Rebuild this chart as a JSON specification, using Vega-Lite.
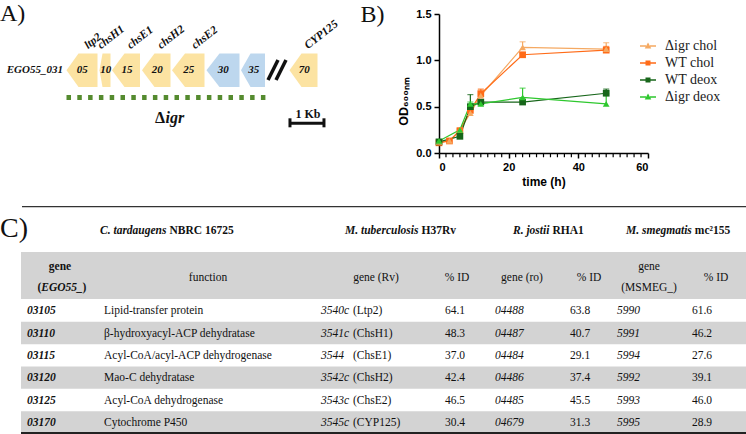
{
  "$schema": "https://vega.github.io/schema/vega-lite/v6.json",
  "padding": 0,
  "bounds": "flush",
  "spacing": 206,
  "config": {"view": {"stroke": null}, "text": {"font": "Liberation Serif"}},
  "resolve": {"scale": {"color": "independent"}, "legend": {"color": "independent"}},
  "vconcat": [
    {
      "bounds": "flush",
      "spacing": 39,
      "hconcat": [
        {
          "width": 400,
          "height": 200,
          "data": {"values": [
            {"gene": "05", "name": "ltp2", "type": "steroid", "kb": 1.956, "hi": 0, "lo": 0},
            {"gene": "05", "name": "ltp2", "type": "steroid", "kb": 2.309, "hi": 1, "lo": -1},
            {"gene": "05", "name": "ltp2", "type": "steroid", "kb": 2.868, "hi": 1, "lo": -1},
            {"gene": "10", "name": "chsH1", "type": "steroid", "kb": 2.926, "hi": 0, "lo": 0},
            {"gene": "10", "name": "chsH1", "type": "steroid", "kb": 3.015, "hi": 1, "lo": -1},
            {"gene": "10", "name": "chsH1", "type": "steroid", "kb": 3.25, "hi": 1, "lo": -1},
            {"gene": "15", "name": "chsE1", "type": "steroid", "kb": 3.294, "hi": 0, "lo": 0},
            {"gene": "15", "name": "chsE1", "type": "steroid", "kb": 3.662, "hi": 1, "lo": -1},
            {"gene": "15", "name": "chsE1", "type": "steroid", "kb": 4.118, "hi": 1, "lo": -1},
            {"gene": "20", "name": "chsH2", "type": "steroid", "kb": 4.176, "hi": 0, "lo": 0},
            {"gene": "20", "name": "chsH2", "type": "steroid", "kb": 4.544, "hi": 1, "lo": -1},
            {"gene": "20", "name": "chsH2", "type": "steroid", "kb": 5.015, "hi": 1, "lo": -1},
            {"gene": "25", "name": "chsE2", "type": "steroid", "kb": 5.059, "hi": 0, "lo": 0},
            {"gene": "25", "name": "chsE2", "type": "steroid", "kb": 5.441, "hi": 1, "lo": -1},
            {"gene": "25", "name": "chsE2", "type": "steroid", "kb": 6.015, "hi": 1, "lo": -1},
            {"gene": "30", "type": "other", "kb": 6.074, "hi": 0, "lo": 0},
            {"gene": "30", "type": "other", "kb": 6.456, "hi": 1, "lo": -1},
            {"gene": "30", "type": "other", "kb": 7.044, "hi": 1, "lo": -1},
            {"gene": "35", "type": "other", "kb": 7.088, "hi": 0, "lo": 0},
            {"gene": "35", "type": "other", "kb": 7.368, "hi": 1, "lo": -1},
            {"gene": "35", "type": "other", "kb": 7.794, "hi": 1, "lo": -1},
            {"gene": "70", "name": "CYP125", "type": "steroid", "kb": 8.515, "hi": 0, "lo": 0},
            {"gene": "70", "name": "CYP125", "type": "steroid", "kb": 8.868, "hi": 1, "lo": -1},
            {"gene": "70", "name": "CYP125", "type": "steroid", "kb": 9.338, "hi": 1, "lo": -1}
          ]},
          "layer": [
            {
              "transform": [{"filter": "datum.type == 'steroid'"}],
              "mark": {"type": "area", "opacity": 1, "interpolate": "linear", "color": "#FCE3A2"},
              "encoding": {
                "x": {"field": "kb", "type": "quantitative", "scale": {"domain": [0, 11.765], "nice": false, "zero": false}, "axis": null},
                "y": {"field": "hi", "type": "quantitative", "scale": {"domain": [-7.743, 4.197], "nice": false, "zero": false}, "axis": null},
                "y2": {"field": "lo"},
                "detail": {"field": "gene"}
              }
            },
            {
              "transform": [{"filter": "datum.type == 'other'"}],
              "mark": {"type": "area", "opacity": 1, "interpolate": "linear", "color": "#BDD7EE"},
              "encoding": {
                "x": {"field": "kb", "type": "quantitative", "axis": null},
                "y": {"field": "hi", "type": "quantitative", "axis": null},
                "y2": {"field": "lo"},
                "detail": {"field": "gene"}
              }
            },
            {
              "mark": {"type": "text", "font": "Liberation Serif", "fontStyle": "italic", "fontWeight": "bold", "fontSize": 11, "dx": 1.5, "color": "#111"},
              "encoding": {
                "x": {"aggregate": "mean", "field": "kb", "type": "quantitative", "axis": null},
                "y": {"datum": 0, "type": "quantitative", "axis": null},
                "text": {"field": "gene"}
              }
            },
            {
              "transform": [{"filter": "isValid(datum.name)"}],
              "mark": {"type": "text", "font": "Liberation Serif", "fontStyle": "italic", "fontWeight": "bold", "fontSize": 11.5, "angle": -38, "align": "left", "baseline": "alphabetic", "dx": -7.5, "dy": -5.85, "color": "#111"},
              "encoding": {
                "x": {"aggregate": "max", "field": "kb", "type": "quantitative", "axis": null},
                "y": {"datum": 1.254, "type": "quantitative", "axis": null},
                "text": {"field": "name"}
              }
            },
            {
              "data": {"values": [{"label": "EGO55_031"}]},
              "mark": {"type": "text", "font": "Liberation Serif", "fontStyle": "italic", "fontWeight": "bold", "fontSize": 11, "align": "right", "color": "#111"},
              "encoding": {
                "x": {"datum": 1.853, "type": "quantitative", "axis": null},
                "y": {"datum": 0, "type": "quantitative", "axis": null},
                "text": {"field": "label"}
              }
            },
            {
              "data": {"values": [{"region": "Δigr", "from": 1.956, "to": 7.824}]},
              "mark": {"type": "rule", "strokeWidth": 5, "strokeDash": [4.5, 6.3], "color": "#558B2F"},
              "encoding": {
                "x": {"field": "from", "type": "quantitative", "axis": null},
                "x2": {"field": "to"},
                "y": {"datum": -1.624, "type": "quantitative", "axis": null}
              }
            },
            {
              "data": {"values": [{"label": "Δ"}]},
              "mark": {"type": "text", "font": "Liberation Serif", "fontWeight": "bold", "fontSize": 16, "align": "right", "color": "#111"},
              "encoding": {
                "x": {"datum": 4.853, "type": "quantitative", "axis": null},
                "y": {"datum": -2.848, "type": "quantitative", "axis": null},
                "text": {"field": "label"}
              }
            },
            {
              "data": {"values": [{"label": "igr"}]},
              "mark": {"type": "text", "font": "Liberation Serif", "fontWeight": "bold", "fontStyle": "italic", "fontSize": 16, "align": "left", "color": "#111"},
              "encoding": {
                "x": {"datum": 4.87, "type": "quantitative", "axis": null},
                "y": {"datum": -2.848, "type": "quantitative", "axis": null},
                "text": {"field": "label"}
              }
            },
            {
              "data": {"values": [{"bar": "1 Kb"}]},
              "mark": {"type": "rule", "strokeWidth": 3, "color": "#111"},
              "encoding": {
                "x": {"datum": 8.529, "type": "quantitative", "axis": null},
                "x2": {"datum": 9.529},
                "y": {"datum": -3.164, "type": "quantitative", "axis": null}
              }
            },
            {
              "data": {"values": [{"bar": "1 Kb"}]},
              "mark": {"type": "rule", "strokeWidth": 3, "color": "#111"},
              "encoding": {
                "x": {"datum": 8.529, "type": "quantitative", "axis": null},
                "y": {"datum": -2.866, "type": "quantitative", "axis": null},
                "y2": {"datum": -3.403}
              }
            },
            {
              "data": {"values": [{"bar": "1 Kb"}]},
              "mark": {"type": "rule", "strokeWidth": 3, "color": "#111"},
              "encoding": {
                "x": {"datum": 9.529, "type": "quantitative", "axis": null},
                "y": {"datum": -2.866, "type": "quantitative", "axis": null},
                "y2": {"datum": -3.403}
              }
            },
            {
              "data": {"values": [{"label": "1 Kb"}]},
              "mark": {"type": "text", "font": "Liberation Serif", "fontWeight": "bold", "fontSize": 12, "color": "#111"},
              "encoding": {
                "x": {"datum": 9.06, "type": "quantitative", "axis": null},
                "y": {"datum": -2.591, "type": "quantitative", "axis": null},
                "text": {"field": "label"}
              }
            },
            {
              "data": {"values": [{"mark": "break"}]},
              "mark": {"type": "rule", "strokeWidth": 3.5, "color": "#111"},
              "encoding": {
                "x": {"datum": 7.882, "type": "quantitative", "axis": null},
                "x2": {"datum": 8.176},
                "y": {"datum": -0.579, "type": "quantitative", "axis": null},
                "y2": {"datum": 0.615}
              }
            },
            {
              "data": {"values": [{"mark": "break"}]},
              "mark": {"type": "rule", "strokeWidth": 3.5, "color": "#111"},
              "encoding": {
                "x": {"datum": 8.118, "type": "quantitative", "axis": null},
                "x2": {"datum": 8.412},
                "y": {"datum": -0.579, "type": "quantitative", "axis": null},
                "y2": {"datum": 0.615}
              }
            },
            {
              "data": {"values": [{"label": "A)"}]},
              "mark": {"type": "text", "font": "Liberation Serif", "fontSize": 24, "align": "left", "baseline": "alphabetic", "color": "#111"},
              "encoding": {
                "x": {"datum": 0, "type": "quantitative", "axis": null},
                "y": {"datum": 2.95, "type": "quantitative", "axis": null},
                "text": {"field": "label"}
              }
            },
            {
              "data": {"values": [{"label": "B)"}]},
              "mark": {"type": "text", "font": "Liberation Serif", "fontSize": 24, "align": "left", "baseline": "alphabetic", "color": "#111"},
              "encoding": {
                "x": {"datum": 10.6, "type": "quantitative", "axis": null},
                "y": {"datum": 2.9, "type": "quantitative", "axis": null},
                "text": {"field": "label"}
              }
            }
          ]
        },
        {
          "bounds": "flush",
          "spacing": 0,
          "vconcat": [
            {"width": 209, "height": 14, "data": {"values": []}, "mark": "point"},
            {
              "width": 209,
              "height": 139,
              "data": {"values": [
                {"series": "Δigr chol", "t": 0, "od": 0.12, "hi": 0.12},
                {"series": "Δigr chol", "t": 3, "od": 0.13, "hi": 0.13},
                {"series": "Δigr chol", "t": 6, "od": 0.25, "hi": 0.27},
                {"series": "Δigr chol", "t": 9, "od": 0.43, "hi": 0.46},
                {"series": "Δigr chol", "t": 12, "od": 0.62, "hi": 0.68},
                {"series": "Δigr chol", "t": 24, "od": 1.14, "hi": 1.2},
                {"series": "Δigr chol", "t": 48, "od": 1.12, "hi": 1.19},
                {"series": "WT chol", "t": 0, "od": 0.11, "hi": 0.11},
                {"series": "WT chol", "t": 3, "od": 0.13, "hi": 0.13},
                {"series": "WT chol", "t": 6, "od": 0.24, "hi": 0.25},
                {"series": "WT chol", "t": 9, "od": 0.46, "hi": 0.49},
                {"series": "WT chol", "t": 12, "od": 0.64, "hi": 0.69},
                {"series": "WT chol", "t": 24, "od": 1.06, "hi": 1.08},
                {"series": "WT chol", "t": 48, "od": 1.11, "hi": 1.15},
                {"series": "WT deox", "t": 0, "od": 0.12, "hi": 0.13},
                {"series": "WT deox", "t": 6, "od": 0.18, "hi": 0.19},
                {"series": "WT deox", "t": 9, "od": 0.5, "hi": 0.63},
                {"series": "WT deox", "t": 12, "od": 0.55, "hi": 0.57},
                {"series": "WT deox", "t": 24, "od": 0.55, "hi": 0.56},
                {"series": "WT deox", "t": 48, "od": 0.645, "hi": 0.69},
                {"series": "Δigr deox", "t": 0, "od": 0.13, "hi": 0.13},
                {"series": "Δigr deox", "t": 6, "od": 0.25, "hi": 0.26},
                {"series": "Δigr deox", "t": 9, "od": 0.53, "hi": 0.55},
                {"series": "Δigr deox", "t": 12, "od": 0.53, "hi": 0.55},
                {"series": "Δigr deox", "t": 24, "od": 0.6, "hi": 0.7},
                {"series": "Δigr deox", "t": 48, "od": 0.53, "hi": 0.64}
              ]},
              "layer": [
                {
                  "mark": {"type": "line", "strokeWidth": 1.2},
                  "encoding": {
                    "x": {"field": "t", "type": "quantitative", "scale": {"domain": [0, 60], "nice": false, "zero": false},
                      "axis": {"orient": "bottom", "values": [0, 20, 40, 60], "title": "time (h)", "titleFont": "Liberation Sans", "titleFontSize": 12, "titleFontWeight": "bold", "titleColor": "black", "titlePadding": 4, "labelFont": "Liberation Sans", "labelFontSize": 11, "labelFontWeight": "bold", "labelColor": "black", "labelPadding": 3, "domainColor": "black", "domainWidth": 1.5, "tickColor": "black", "tickWidth": 1.5, "tickSize": 5, "grid": false}},
                    "y": {"field": "od", "type": "quantitative", "scale": {"domain": [0, 1.5], "nice": false, "zero": false},
                      "axis": {"values": [0, 0.5, 1, 1.5], "format": ".1f", "title": "OD₆₀₀ₙₘ", "titleFont": "Liberation Sans", "titleFontSize": 12.5, "titleFontWeight": "bold", "titleColor": "black", "titlePadding": 5, "titleY": 87, "labelFont": "Liberation Sans", "labelFontSize": 11, "labelFontWeight": "bold", "labelColor": "black", "labelPadding": 3, "domainColor": "black", "domainWidth": 1.5, "tickColor": "black", "tickWidth": 1.5, "tickSize": 5, "grid": false}},
                    "color": {"field": "series", "type": "nominal", "scale": {"domain": ["Δigr chol", "WT chol", "WT deox", "Δigr deox"], "range": ["#F5A962", "#FF6B17", "#17661A", "#2EC82E"]},
                      "legend": {"orient": "none", "legendX": 641, "legendY": 39, "title": null, "padding": 0, "labelFont": "Liberation Serif", "labelFontSize": 14, "labelColor": "#222", "symbolSize": 100, "labelOffset": 10, "rowPadding": 3, "symbolStrokeWidth": 1.4,
                        "encode": {"symbols": {"update": {
                          "shape": {"signal": "indexof(['Δigr chol','Δigr deox'], datum.value) >= 0 ? 'M-1.6,0H-0.4M0.4,0H1.6M0,-0.42L0.42,0.36H-0.42Z' : 'M-1.6,0H-0.36M0.36,0H1.6M-0.36,-0.36H0.36V0.36H-0.36Z'"},
                          "stroke": {"signal": "scale('color', datum.value)"},
                          "fill": {"signal": "scale('color', datum.value)"},
                          "strokeWidth": {"value": 1.4},
                          "strokeOpacity": {"value": 1},
                          "fillOpacity": {"value": 1},
                          "opacity": {"value": 1}
                        }}}}}
                  }
                },
                {
                  "data": {"values": [{"h": 2}, {"h": 4}, {"h": 6}, {"h": 8}, {"h": 10}, {"h": 12}, {"h": 14}, {"h": 16}, {"h": 18}, {"h": 22}, {"h": 24}, {"h": 26}, {"h": 28}, {"h": 30}, {"h": 32}, {"h": 34}, {"h": 36}, {"h": 38}, {"h": 42}, {"h": 44}, {"h": 46}, {"h": 48}, {"h": 50}, {"h": 52}, {"h": 54}, {"h": 56}, {"h": 58}]},
                  "mark": {"type": "tick", "orient": "vertical", "size": 3.5, "thickness": 1.2, "color": "black", "yOffset": 2.5, "opacity": 1},
                  "encoding": {
                    "x": {"field": "h", "type": "quantitative"},
                    "y": {"datum": 0, "type": "quantitative"}
                  }
                },
                {
                  "transform": [{"filter": "datum.hi > datum.od"}],
                  "mark": {"type": "rule", "strokeWidth": 1.2},
                  "encoding": {
                    "x": {"field": "t", "type": "quantitative"},
                    "y": {"field": "od", "type": "quantitative"},
                    "y2": {"field": "hi"},
                    "color": {"field": "series", "type": "nominal"}
                  }
                },
                {
                  "transform": [{"filter": "datum.hi > datum.od"}],
                  "mark": {"type": "tick", "orient": "horizontal", "size": 6, "thickness": 1.2},
                  "encoding": {
                    "x": {"field": "t", "type": "quantitative"},
                    "y": {"field": "hi", "type": "quantitative"},
                    "color": {"field": "series", "type": "nominal"}
                  }
                },
                {
                  "transform": [{"filter": "indexof(datum.series, 'WT') == 0"}],
                  "mark": {"type": "point", "filled": true, "size": 45, "opacity": 1, "shape": "square"},
                  "encoding": {
                    "x": {"field": "t", "type": "quantitative"},
                    "y": {"field": "od", "type": "quantitative"},
                    "color": {"field": "series", "type": "nominal"}
                  }
                },
                {
                  "transform": [{"filter": "indexof(datum.series, 'WT') != 0"}],
                  "mark": {"type": "point", "filled": true, "size": 45, "opacity": 1, "shape": "triangle-up"},
                  "encoding": {
                    "x": {"field": "t", "type": "quantitative"},
                    "y": {"field": "od", "type": "quantitative"},
                    "color": {"field": "series", "type": "nominal"}
                  }
                }
              ]
            }
          ]
        }
      ]
    },
    {
      "width": 746,
      "height": 228,
      "data": {"values": [
        {"row": 1, "gene": "03105", "func": "Lipid-transfer protein", "rv": "3540c", "rvname": "(Ltp2)", "rvid": "64.1", "ro": "04488", "roid": "63.8", "msmeg": "5990", "msid": "61.6"},
        {"row": 2, "gene": "03110", "func": "β-hydroxyacyl-ACP dehydratase", "rv": "3541c", "rvname": "(ChsH1)", "rvid": "48.3", "ro": "04487", "roid": "40.7", "msmeg": "5991", "msid": "46.2"},
        {"row": 3, "gene": "03115", "func": "Acyl-CoA/acyl-ACP dehydrogenase", "rv": "3544", "rvname": "(ChsE1)", "rvid": "37.0", "ro": "04484", "roid": "29.1", "msmeg": "5994", "msid": "27.6"},
        {"row": 4, "gene": "03120", "func": "Mao-C dehydratase", "rv": "3542c", "rvname": "(ChsH2)", "rvid": "42.4", "ro": "04486", "roid": "37.4", "msmeg": "5992", "msid": "39.1"},
        {"row": 5, "gene": "03125", "func": "Acyl-CoA dehydrogenase", "rv": "3543c", "rvname": "(ChsE2)", "rvid": "46.5", "ro": "04485", "roid": "45.5", "msmeg": "5993", "msid": "46.0"},
        {"row": 6, "gene": "03170", "func": "Cytochrome P450", "rv": "3545c", "rvname": "(CYP125)", "rvid": "30.4", "ro": "04679", "roid": "31.3", "msmeg": "5995", "msid": "28.9"}
      ]},
      "layer": [
        {
          "data": {"values": [{"part": "header"}]},
          "mark": {"type": "rect", "color": "#D3D3D3"},
          "encoding": {
            "x": {"datum": 2.815, "type": "quantitative", "scale": {"domain": [0, 100], "nice": false, "zero": false}, "axis": null},
            "x2": {"datum": 100},
            "y": {"datum": -1.606, "type": "quantitative", "scale": {"domain": [-3.666, 6.544], "nice": false, "zero": false, "reverse": true}, "axis": null},
            "y2": {"datum": 0.5}
          }
        },
        {
          "transform": [{"filter": "datum.row % 2 == 0"}],
          "mark": {"type": "rect", "color": "#D3D3D3"},
          "encoding": {
            "x": {"datum": 2.815, "type": "quantitative", "axis": null},
            "x2": {"datum": 100},
            "y": {"field": "row", "type": "quantitative", "bin": {"step": 1, "anchor": 0.5, "nice": false, "extent": [0.5, 6.5]}, "axis": null}
          }
        },
        {
          "data": {"values": [{"part": "top rule"}]},
          "mark": {"type": "rule", "strokeWidth": 1.3, "color": "#333"},
          "encoding": {
            "x": {"datum": 2.949, "type": "quantitative", "axis": null},
            "x2": {"datum": 100},
            "y": {"datum": -3.64, "type": "quantitative", "axis": null}
          }
        },
        {
          "data": {"values": [{"part": "bottom rule"}]},
          "mark": {"type": "rule", "strokeWidth": 2, "color": "#222"},
          "encoding": {
            "x": {"datum": 2.815, "type": "quantitative", "axis": null},
            "x2": {"datum": 100},
            "y": {"datum": 6.5, "type": "quantitative", "axis": null}
          }
        },
        {
          "data": {"values": [{"label": "C)"}]},
          "mark": {"type": "text", "fontSize": 28, "align": "left", "baseline": "alphabetic", "color": "#111"},
          "encoding": {
            "x": {"datum": 0, "type": "quantitative", "axis": null},
            "y": {"datum": -2.278, "type": "quantitative", "axis": null},
            "text": {"field": "label"}
          }
        },
        {
          "data": {"values": [{"a": "C. tardaugens", "x": 22.319}, {"a": "M. tuberculosis", "x": 56.099}, {"a": "R. jostii", "x": 73.646}, {"a": "M. smegmatis", "x": 92.735}]},
          "mark": {"type": "text", "fontSize": 11.5, "fontWeight": "bold", "fontStyle": "italic", "align": "right", "color": "#111"},
          "encoding": {
            "x": {"field": "x", "type": "quantitative", "axis": null},
            "y": {"datum": -2.547, "type": "quantitative", "axis": null},
            "text": {"field": "a"}
          }
        },
        {
          "data": {"values": [{"b": "NBRC 16725", "x": 22.721}, {"b": "H37Rv", "x": 56.501}, {"b": "RHA1", "x": 74.048}, {"b": "mc²155", "x": 93.137}]},
          "mark": {"type": "text", "fontSize": 11.5, "fontWeight": "bold", "align": "left", "color": "#111"},
          "encoding": {
            "x": {"field": "x", "type": "quantitative", "axis": null},
            "y": {"datum": -2.547, "type": "quantitative", "axis": null},
            "text": {"field": "b"}
          }
        },
        {
          "data": {"values": [{"label": "gene"}]},
          "mark": {"type": "text", "fontSize": 11.5, "fontWeight": "bold", "color": "#111"},
          "encoding": {
            "x": {"datum": 8.043, "type": "quantitative", "axis": null},
            "y": {"datum": -0.913, "type": "quantitative", "axis": null},
            "text": {"field": "label"}
          }
        },
        {
          "data": {"values": [{"label": "EGO55_"}]},
          "mark": {"type": "text", "fontSize": 11.5, "fontWeight": "bold", "fontStyle": "italic", "color": "#111"},
          "encoding": {
            "x": {"datum": 8.311, "type": "quantitative", "axis": null},
            "y": {"datum": 0.027, "type": "quantitative", "axis": null},
            "text": {"field": "label"}
          }
        },
        {
          "data": {"values": [{"label": "("}]},
          "mark": {"type": "text", "fontSize": 11.5, "fontWeight": "bold", "align": "right", "color": "#111"},
          "encoding": {
            "x": {"datum": 5.55, "type": "quantitative", "axis": null},
            "y": {"datum": 0.027, "type": "quantitative", "axis": null},
            "text": {"field": "label"}
          }
        },
        {
          "data": {"values": [{"label": ")"}]},
          "mark": {"type": "text", "fontSize": 11.5, "fontWeight": "bold", "align": "left", "color": "#111"},
          "encoding": {
            "x": {"datum": 11.07, "type": "quantitative", "axis": null},
            "y": {"datum": 0.027, "type": "quantitative", "axis": null},
            "text": {"field": "label"}
          }
        },
        {
          "data": {"values": [{"h": "function", "x": 27.882}, {"h": "gene (Rv)", "x": 50.402}, {"h": "% ID", "x": 61.26}, {"h": "gene (ro)", "x": 69.973}, {"h": "% ID", "x": 78.954}, {"h": "% ID", "x": 95.979}]},
          "mark": {"type": "text", "fontSize": 11.5, "color": "#111"},
          "encoding": {
            "x": {"field": "x", "type": "quantitative", "axis": null},
            "y": {"datum": -0.442, "type": "quantitative", "axis": null},
            "text": {"field": "h"}
          }
        },
        {
          "data": {"values": [{"label": "gene"}]},
          "mark": {"type": "text", "fontSize": 11.5, "color": "#111"},
          "encoding": {
            "x": {"datum": 86.997, "type": "quantitative", "axis": null},
            "y": {"datum": -0.913, "type": "quantitative", "axis": null},
            "text": {"field": "label"}
          }
        },
        {
          "data": {"values": [{"label": "(MSMEG_)"}]},
          "mark": {"type": "text", "fontSize": 11.5, "color": "#111"},
          "encoding": {
            "x": {"datum": 86.997, "type": "quantitative", "axis": null},
            "y": {"datum": 0.027, "type": "quantitative", "axis": null},
            "text": {"field": "label"}
          }
        },
        {
          "mark": {"type": "text", "fontSize": 11.5, "fontWeight": "bold", "fontStyle": "italic", "align": "left", "dy": 1, "color": "#111"},
          "encoding": {
            "x": {"datum": 3.619, "type": "quantitative", "axis": null},
            "y": {"field": "row", "type": "quantitative", "axis": null},
            "text": {"field": "gene"}
          }
        },
        {
          "mark": {"type": "text", "fontSize": 11.5, "align": "left", "dy": 1, "color": "#111"},
          "encoding": {
            "x": {"datum": 13.941, "type": "quantitative", "axis": null},
            "y": {"field": "row", "type": "quantitative", "axis": null},
            "text": {"field": "func"}
          }
        },
        {
          "mark": {"type": "text", "fontSize": 11.5, "fontStyle": "italic", "align": "left", "dy": 1, "color": "#111"},
          "encoding": {
            "x": {"datum": 43.029, "type": "quantitative", "axis": null},
            "y": {"field": "row", "type": "quantitative", "axis": null},
            "text": {"field": "rv"}
          }
        },
        {
          "mark": {"type": "text", "fontSize": 11.5, "align": "left", "dy": 1, "color": "#111"},
          "encoding": {
            "x": {"datum": 47.32, "type": "quantitative", "axis": null},
            "y": {"field": "row", "type": "quantitative", "axis": null},
            "text": {"field": "rvname"}
          }
        },
        {
          "mark": {"type": "text", "fontSize": 11.5, "align": "left", "dy": 1, "color": "#111"},
          "encoding": {
            "x": {"datum": 59.651, "type": "quantitative", "axis": null},
            "y": {"field": "row", "type": "quantitative", "axis": null},
            "text": {"field": "rvid"}
          }
        },
        {
          "mark": {"type": "text", "fontSize": 11.5, "fontStyle": "italic", "align": "left", "dy": 1, "color": "#111"},
          "encoding": {
            "x": {"datum": 66.354, "type": "quantitative", "axis": null},
            "y": {"field": "row", "type": "quantitative", "axis": null},
            "text": {"field": "ro"}
          }
        },
        {
          "mark": {"type": "text", "fontSize": 11.5, "align": "left", "dy": 1, "color": "#111"},
          "encoding": {
            "x": {"datum": 76.408, "type": "quantitative", "axis": null},
            "y": {"field": "row", "type": "quantitative", "axis": null},
            "text": {"field": "roid"}
          }
        },
        {
          "mark": {"type": "text", "fontSize": 11.5, "fontStyle": "italic", "align": "left", "dy": 1, "color": "#111"},
          "encoding": {
            "x": {"datum": 82.708, "type": "quantitative", "axis": null},
            "y": {"field": "row", "type": "quantitative", "axis": null},
            "text": {"field": "msmeg"}
          }
        },
        {
          "mark": {"type": "text", "fontSize": 11.5, "align": "left", "dy": 1, "color": "#111"},
          "encoding": {
            "x": {"datum": 92.761, "type": "quantitative", "axis": null},
            "y": {"field": "row", "type": "quantitative", "axis": null},
            "text": {"field": "msid"}
          }
        }
      ]
    }
  ]
}
